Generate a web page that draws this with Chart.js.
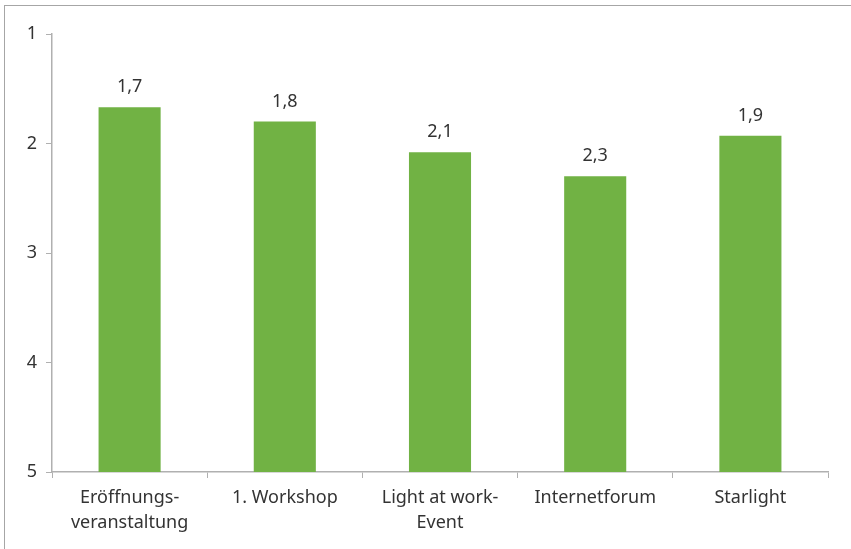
<!DOCTYPE html>
<html>
<head>
<meta charset="utf-8">
<script src="https://cdn.jsdelivr.net/npm/chart.js@4"></script>
<style>
  html, body { margin: 0; padding: 0; background: #fff; }
  .wrap { position: relative; width: 851px; height: 549px; }
  .frame {
    position: absolute; left: 4px; top: 5px; right: -2px; bottom: -2px;
    border-top: 1px solid #a6a6a6; border-left: 1px solid #a6a6a6;
    pointer-events: none;
  }
  canvas { position: absolute; left: 0; top: 0; }
</style>
</head>
<body>
<div class="wrap">
  <canvas id="chart" width="851" height="549"></canvas>
  <div class="frame"></div>
</div>
<script>
// Bewertung (1 = sehr gut, 5 = schlecht)
const categories = [
  ['Eröffnungs-', 'veranstaltung'],
  '1. Workshop',
  ['Light at work-', 'Event'],
  'Internetforum',
  'Starlight'
];
const values = [1.67, 1.80, 2.08, 2.30, 1.93];
const yTicks = [1, 2, 3, 4, 5];

const axisGray = '#b0b0b0';
const textColor = '#333333';
const barGreen = '#71b244';
const fontFamily = '"Noto Sans", "Open Sans", sans-serif';

const fmt = v => v.toFixed(1).replace('.', ',');

// Werte über den Balken
const valueLabels = {
  id: 'valueLabels',
  afterDatasetsDraw(chart) {
    const ctx = chart.ctx;
    const meta = chart.getDatasetMeta(0);
    const y = chart.scales.y;
    ctx.save();
    ctx.font = '18px ' + fontFamily;
    ctx.fillStyle = textColor;
    ctx.textAlign = 'center';
    ctx.textBaseline = 'alphabetic';
    meta.data.forEach((bar, i) => {
      ctx.fillText(fmt(values[i]), bar.x, y.getPixelForValue(values[i]) - 15);
    });
    ctx.restore();
  }
};

new Chart(document.getElementById('chart'), {
  type: 'bar',
  data: {
    labels: categories,
    datasets: [{
      data: values.map(v => [yTicks[yTicks.length - 1], v]),
      backgroundColor: barGreen,
      borderWidth: 0,
      borderSkipped: false,
      categoryPercentage: 1,
      barPercentage: 0.4
    }]
  },
  options: {
    responsive: false,
    animation: false,
    layout: { padding: { top: 34, right: 23, bottom: 0, left: 0 } },
    plugins: {
      legend: { display: false },
      tooltip: { enabled: false }
    },
    scales: {
      x: {
        afterFit: s => { s.height = 77; },
        grid: {
          offset: true,
          drawOnChartArea: false,
          drawTicks: true,
          tickLength: 6,
          color: axisGray
        },
        border: { display: true, color: axisGray, width: 1.5 },
        ticks: {
          color: textColor,
          font: { family: fontFamily, size: 18, lineHeight: 1.35 },
          padding: 8,
          maxRotation: 0,
          autoSkip: false
        }
      },
      y: {
        reverse: true,
        min: yTicks[0],
        max: yTicks[yTicks.length - 1],
        afterFit: s => { s.width = 52; },
        afterBuildTicks: s => { s.ticks = yTicks.map(v => ({ value: v })); },
        grid: {
          drawOnChartArea: false,
          drawTicks: true,
          tickLength: 6,
          color: axisGray
        },
        border: { display: true, color: axisGray, width: 1.5 },
        ticks: {
          color: textColor,
          font: { family: fontFamily, size: 18 },
          padding: 9,
          callback: v => String(v)
        }
      }
    }
  },
  plugins: [valueLabels]
});
</script>
</body>
</html>
